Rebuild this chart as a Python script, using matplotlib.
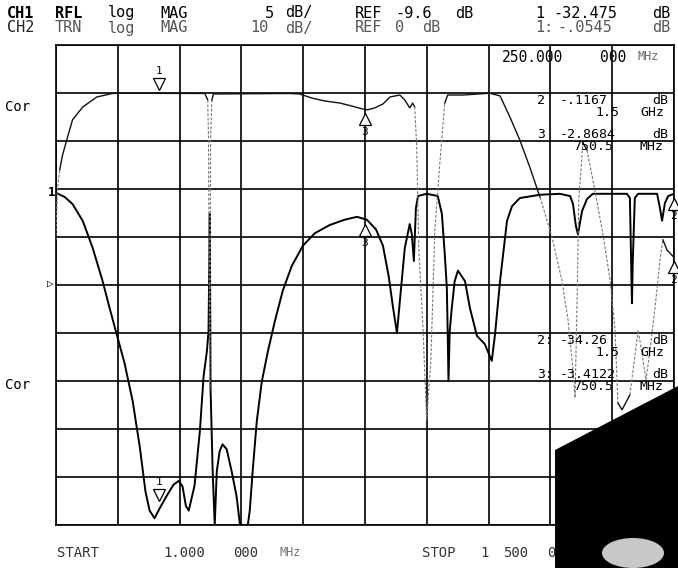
import numpy as np
import matplotlib
matplotlib.use('Agg')
import matplotlib.pyplot as plt
from matplotlib.patches import Polygon, Ellipse
from matplotlib.transforms import offset_copy

# sweep and channel settings
start_mhz = 1.0
stop_mhz = 1500.0
ch1_scale, ch1_ref, ch1_ref_div = 5.0, -9.6, 5    # RFL log MAG 5 dB/ REF -9.6 dB
ch2_scale, ch2_ref, ch2_ref_div = 10.0, 0.0, 9    # TRN log MAG 10 dB/ REF 0 dB

# CH1 reflection trace (MHz, dB)
rfl_mhz = [1, 22, 41, 66, 90, 114, 131, 148, 167, 187, 204, 218, 228, 240, 252, 269,
           286, 299, 308, 316, 323, 337, 350, 359, 367, 371, 374, 376, 381, 386, 391,
           398, 405, 415, 427, 439, 447, 456, 466, 471, 478, 488, 500, 515, 532, 551,
           573, 600, 629, 665, 701, 731, 755, 777, 794, 808, 818, 828, 835, 847, 859,
           864, 869, 874, 879, 900, 927, 937, 944, 949, 951, 953, 956, 961, 968, 976,
           993, 1005, 1022, 1041, 1058, 1066, 1078, 1095, 1107, 1126, 1175, 1223, 1248,
           1255, 1262, 1267, 1277, 1289, 1303, 1386, 1393, 1396, 1398, 1400, 1405, 1413,
           1459, 1466, 1471, 1478, 1486, 1500]
rfl_db = [0.0, -0.43, -1.16, -2.93, -5.75, -9.18, -12.0, -14.7, -17.7, -21.7, -26.4,
          -31.1, -33.1, -33.9, -32.9, -31.6, -30.4, -30.0, -30.6, -32.6, -33.1, -30.5,
          -24.8, -19.1, -16.5, -14.4, -2.2, -20.6, -29.0, -34.6, -29.0, -26.9, -26.2,
          -26.7, -29.0, -31.6, -34.5, -34.7, -34.7, -33.1, -29.0, -23.8, -19.7, -16.5,
          -13.35, -10.2, -7.6, -5.5, -4.2, -3.35, -2.8, -2.5, -2.8, -3.8, -5.5, -8.7,
          -11.8, -14.6, -11.3, -5.75, -3.25, -4.3, -7.1, -1.6, -0.33, -0.1, -0.33, -2.2,
          -6.4, -9.9, -14.4, -19.6, -14.4, -12.0, -9.2, -8.1, -9.2, -12.0, -14.9, -15.75,
          -17.5, -14.7, -9.2, -2.9, -1.4, -0.54, -0.2, -0.1, -0.33, -1.16, -3.45, -4.3,
          -1.9, -0.64, -0.1, -0.1, -0.54, -7.1, -11.5, -7.1, -0.54, -0.1, -0.1, -1.6,
          -2.9, -1.06, -0.33, -0.1]

# CH2 transmission trace (MHz, dB)
trn_mhz = [1, 4, 10, 17, 27, 41, 66, 100, 138, 155, 362, 369, 371, 374, 376, 379, 383,
           568, 592, 621, 653, 689, 718, 743, 757, 774, 794, 811, 835, 847, 859, 866,
           871, 876, 881, 891, 900, 910, 920, 932, 944, 951, 988, 1053, 1078, 1102, 1126,
           1150, 1175, 1204, 1228, 1243, 1255, 1260, 1265, 1269, 1279, 1289, 1308, 1328,
           1345, 1357, 1364, 1374, 1393, 1413, 1423, 1432, 1442, 1456, 1466, 1473, 1483,
           1500]
trn_db = [-30.6, -20.6, -16.0, -12.9, -9.8, -5.6, -2.9, -0.83, -0.1, -0.05, -0.1, -1.46,
          -9.8, -61.9, -9.8, -1.46, -0.2, -0.1, -0.2, -1.04, -1.67, -2.08, -2.7, -3.3,
          -3.5, -3.1, -2.3, -0.83, -0.42, -1.46, -3.1, -2.1, -2.9, -11.25, -32.7, -48.75,
          -68.1, -56.25, -28.5, -14.6, -2.1, -0.42, -0.42, -0.05, -0.6, -5.0, -9.8, -15.4,
          -21.7, -30.0, -39.0, -47.3, -57.7, -63.5, -43.1, -22.3, -10.4, -11.9, -20.2,
          -29.6, -39.0, -49.4, -64.6, -66.0, -62.9, -49.4, -54.6, -59.8, -53.5, -43.1,
          -34.8, -30.6, -32.7, -34.26]

# markers: number, frequency, CH1 value, CH2 value
mk_num = ['1', '2', '3']
mk_mhz = [250.0, 1500.0, 750.5]
ch1_mk_db = [-32.475, -0.1167, -2.8684]
ch2_mk_db = [-0.0545, -34.26, -3.4122]

W, H = 678, 568
MONO = ['DejaVu Sans Mono', 'DejaVu Sans']

fig = plt.figure(figsize=(W / 100, H / 100), dpi=100)
fig.patch.set_facecolor('white')


def put(x, y, s, size=11, color='black', ha='left', z=3, **kw):
    fig.text(x / W, 1 - y / H, s, fontsize=size, color=color, ha=ha, va='center',
             family=MONO, zorder=z, **kw)


ax = fig.add_axes([56 / W, 1 - 525 / H, 618 / W, 480 / H])
ax.set_xlim(start_mhz, stop_mhz)
lo1 = ch1_ref - ch1_ref_div * ch1_scale
ax.set_ylim(lo1, lo1 + 10 * ch1_scale)
ax.set_xticks(np.linspace(start_mhz, stop_mhz, 11))
ax.set_yticks(np.linspace(lo1, lo1 + 10 * ch1_scale, 11))
ax.grid(True, color='black', lw=1.2)
ax.tick_params(length=0, labelleft=False, labelbottom=False)
for s in ax.spines.values():
    s.set_color('black')
    s.set_linewidth(1.2)

ax2 = ax.twinx()
lo2 = ch2_ref - ch2_ref_div * ch2_scale
ax2.set_ylim(lo2, lo2 + 10 * ch2_scale)
ax2.set_axis_off()

# reflection: solid heavy pen
ax.plot(rfl_mhz, rfl_db, color='black', lw=1.4, solid_joinstyle='round')

# transmission: the plotter pen goes faint on the steep parts
tx = np.array(trn_mhz)
ty = np.array(trn_db)
dx = np.abs(np.diff(tx)) / ((stop_mhz - start_mhz) / 10)
dy = np.abs(np.diff(ty)) / ch2_scale
steep = dy > 2.5 * dx + 0.3
a = 0
for k in range(1, len(steep) + 1):
    if k == len(steep) or steep[k] != steep[a]:
        if steep[a]:
            ax2.plot(tx[a:k + 1], ty[a:k + 1], color='#777777', lw=0.8,
                     linestyle=(0, (2.5, 1.5)))
        else:
            ax2.plot(tx[a:k + 1], ty[a:k + 1], color='#111111', lw=1.0,
                     solid_joinstyle='round')
        a = k

# markers: active marker 1 as a down triangle above, others as up triangles below
for axis, vals in ((ax, ch1_mk_db), (ax2, ch2_mk_db)):
    for n, f, v in zip(mk_num, mk_mhz, vals):
        up = n == '1'
        tr = offset_copy(axis.transData, fig=fig, y=7 if up else -7, units='points')
        axis.plot([f], [v], marker='v' if up else '^', ms=9, mfc='white', mec='black',
                  mew=0.9, transform=tr, clip_on=False, zorder=5)
        axis.annotate(n, (f, v), xytext=(0, 16 if up else -16), textcoords='offset points',
                      ha='center', va='center', fontsize=8, family=MONO,
                      annotation_clip=False, zorder=5)

# header
row1 = [(7, 'CH1'), (55, 'RFL'), (108, 'log'), (160, 'MAG'), (265, '5'), (285, 'dB/'),
        (355, 'REF'), (395, '-9.6'), (455, 'dB'), (535, '1'), (553, '-32.475'), (652, 'dB')]
row2 = [(55, 'TRN'), (108, 'log'), (160, 'MAG'), (250, '10'), (285, 'dB/'),
        (355, 'REF'), (395, '0'), (422, 'dB'), (535, '1:'), (557, '-.0545'), (652, 'dB')]
for x, s in row1:
    put(x, 13, s, weight='bold' if s in ('CH1', 'RFL') else 'normal')
put(7, 28, 'CH2', color='#222222')
for x, s in row2:
    put(x, 28, s, color='#555555')

put(5, 107, 'Cor', size=10)
put(5, 385, 'Cor', size=10)
put(48, 193, '1', size=9, weight='bold')
put(47, 284, '▷', size=8)

# marker readouts
put(502, 57, '250.000', size=10.5)
put(600, 57, '000', size=10.5)
put(637, 57, 'MHz', size=8.5, color='#666666')
block = [(101, 537, '2'), (101, 560, '-.1167'), (101, 652, 'dB'),
         (113, 595, '1.5'), (113, 640, 'GHz'),
         (135, 537, '3'), (135, 560, '-2.8684'), (135, 652, 'dB'),
         (147, 573, '750.5'), (147, 640, 'MHz'),
         (340, 537, '2:'), (340, 560, '-34.26'), (340, 652, 'dB'),
         (352, 595, '1.5'), (352, 640, 'GHz'),
         (375, 537, '3:'), (375, 560, '-3.4122'), (375, 652, 'dB'),
         (387, 573, '750.5'), (387, 640, 'MHz')]
for y, x, s in block:
    put(x, y, s, size=9.5)

# footer
put(57, 553, 'START', size=10, color='#333333')
put(163, 553, '1.000', size=10, color='#333333')
put(233, 553, '000', size=10, color='#333333')
put(280, 553, 'MHz', size=8.5, color='#777777')
put(422, 553, 'STOP', size=10, color='#333333')
put(480, 553, '1', size=10, color='#333333')
put(503, 553, '500', size=10, color='#333333')
put(548, 553, '000 000 MHz', size=10, color='#333333')

# dark shadow in the lower right corner of the scan
corner = [(555, 568), (555, 450), (678, 386), (678, 568)]
fig.add_artist(Polygon([(x / W, 1 - y / H) for x, y in corner], closed=True,
                       transform=fig.transFigure, facecolor='black', edgecolor='none',
                       zorder=10))
fig.add_artist(Ellipse((633 / W, 1 - 553 / H), 62 / W, 30 / H, transform=fig.transFigure,
                       facecolor='#c8c8c8', edgecolor='none', zorder=11))

fig.savefig('out.png', dpi=100, facecolor='white')
